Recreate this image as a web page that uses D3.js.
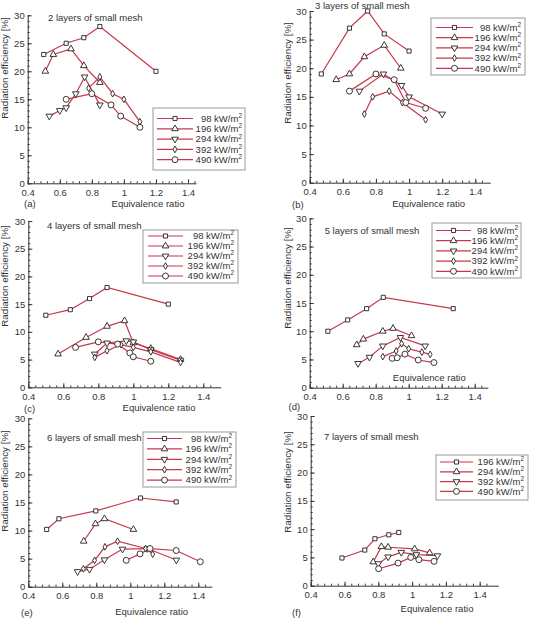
<!DOCTYPE html>
<html>
<head>
<meta charset="utf-8">
<script src="https://cdn.jsdelivr.net/npm/d3@7"></script>
<style>
  body { margin: 0; background: #fff; }
  svg { display: block; font-family: "Liberation Sans", Arial, sans-serif; }
  .axis text { font-size: 9.5px; fill: #333; }
  .axis line, .axis path { stroke: #333; }
</style>
</head>
<body>
<div id="chart"></div>
<script>
// heat loads shown in each legend (kW/m2)
const loadsAE = ['98', '196', '294', '392', '490'];
const loadsF = ['196', '294', '392', '490'];

const xTicks = [0.4, 0.6, 0.8, 1, 1.2, 1.4];
const yTicks = [0, 5, 10, 15, 20, 25, 30];

// equivalence ratio / radiation efficiency [%], one inner array per load
const phiA = [[0.5, 0.64, 0.75, 0.85, 1.2], [0.51, 0.56, 0.67, 0.75, 0.85], [0.535, 0.6, 0.64, 0.7, 0.755, 0.85], [0.78, 0.85, 0.93, 1.0, 1.1], [0.64, 0.8, 0.92, 0.98, 1.1]];
const effA = [[23, 25, 26, 28, 20], [20, 23, 24, 21, 18], [12, 13, 13.5, 16, 19, 14], [17, 19, 16, 15, 11], [15, 16, 14, 12, 10]];

const phiB = [[0.47, 0.64, 0.75, 0.85, 1.0], [0.56, 0.64, 0.73, 0.85, 0.95], [0.7, 0.845, 0.955, 1.0, 1.2], [0.73, 0.78, 0.88, 0.96, 1.1], [0.64, 0.8, 0.91, 0.98, 1.1]];
const effB = [[19, 27, 30, 26, 23], [18, 19, 22, 24, 20], [16, 19, 17, 15, 12], [12, 15, 16, 14, 11], [16, 19, 18, 14, 13]];

const phiC = [[0.5, 0.64, 0.75, 0.85, 1.2], [0.57, 0.73, 0.85, 0.95, 1.0, 1.1, 1.27], [0.78, 0.85, 0.96, 1.0, 1.1, 1.27], [0.78, 0.85, 0.93, 1.0, 1.1, 1.27], [0.67, 0.8, 0.91, 0.98, 1.0, 1.1]];
const effC = [[13, 14, 16, 18, 15], [6, 9, 11, 12, 8, 7, 5], [6, 8, 8.4, 8.2, 6.8, 4.9], [5.4, 6.6, 7.7, 7.2, 6.4, 4.5], [7.2, 8.2, 7.8, 6.2, 5.5, 4.7]];

const phiD = [[0.51, 0.63, 0.745, 0.846, 1.27], [0.685, 0.725, 0.843, 0.905, 1.017], [0.693, 0.762, 0.843, 0.95, 1.1], [0.843, 0.924, 0.957, 1.0, 1.08, 1.13], [0.9, 0.93, 0.977, 1.058, 1.153]];
const effD = [[10, 12, 14, 16, 14], [7.6, 8.6, 10, 10.5, 9.2], [4.3, 5.4, 7.4, 8.9, 7.4], [5.5, 6.5, 7.8, 6.9, 6.3, 5.9], [5.2, 5.3, 5.95, 4.9, 4.45]];

const phiE = [[0.508, 0.58, 0.797, 1.06, 1.27], [0.726, 0.795, 0.848, 1.018], [0.69, 0.76, 0.848, 0.954, 1.1, 1.271], [0.724, 0.79, 0.851, 0.925, 1.09, 1.132], [0.976, 1.057, 1.116, 1.27, 1.412]];
const effE = [[10.2, 12.1, 13.5, 15.8, 15.1], [8.1, 11.2, 12.1, 10.2], [2.7, 3.1, 4.8, 6.7, 6.8, 4.75], [3.2, 4.7, 7.1, 8.1, 6.8, 5.8], [4.7, 5.85, 6.8, 6.45, 4.45]];

const phiF = [[0.585, 0.72, 0.78, 0.862, 0.921], [0.77, 0.818, 0.858, 1.015, 1.104], [0.8, 0.858, 0.936, 1.025, 1.15], [0.802, 0.917, 0.992, 1.04, 1.13]];
const effF = [[4.9, 6.3, 8.3, 9, 9.4], [4.2, 6.9, 6.8, 6.5, 5.8], [3.9, 5.1, 5.9, 5.5, 5.3], [3.0, 4.0, 5.0, 4.6, 4.3]];

const W = 538, H = 619;
const lineColor = '#c8374a';

// marker shapes: square, triangle, inverted triangle, diamond, circle
const markers = [
  {type: d3.symbolSquare, size: 17, rot: 0},
  {type: d3.symbolTriangle, size: 19, rot: 0},
  {type: d3.symbolTriangle, size: 19, rot: 180},
  {type: d3.symbolDiamond, size: 13, rot: 0},
  {type: d3.symbolCircle, size: 28, rot: 0}
];

// panel geometry (pixel layout only)
const panels = [
  {tag: '(a)', title: '2 layers of small mesh', phi: phiA, eff: effA, loads: loadsAE, mk: [0, 1, 2, 3, 4],
   x0: 27.7, xu: 160.3, xEnd: 1.45, y0: 183.3, y30: 15.3,
   tx: 48, ty: 20.5, lg: {x: 153, y: 108, w: 92, h: 62, r0: 118.5, dr: 10.3, l0: 157, l1: 193, t: 242},
   yl: [5, 68], tg: [24, 207], xl: [148, 206.5]},
  {tag: '(b)', title: '3 layers of small mesh', phi: phiB, eff: effB, loads: loadsAE, mk: [0, 1, 2, 3, 4],
   x0: 309.7, xu: 165.6, xEnd: 1.49, y0: 182.7, y30: 11,
   tx: 315, ty: 8.5, lg: {x: 431, y: 18, w: 94, h: 57, r0: 27.5, dr: 10.2, l0: 436, l1: 473, t: 521},
   yl: [288, 73], tg: [292, 208], xl: [428.7, 206.5]},
  {tag: '(c)', title: '4 layers of small mesh', phi: phiC, eff: effC, loads: loadsAE, mk: [0, 1, 2, 3, 4],
   x0: 28.3, xu: 175, xEnd: 1.5, y0: 387.3, y30: 221,
   tx: 47, ty: 229, lg: {x: 143, y: 230, w: 95, h: 53, r0: 236, dr: 10, l0: 148, l1: 183, t: 234},
   yl: [5, 276], tg: [24, 412], xl: [159, 410.5]},
  {tag: '(d)', title: '5 layers of small mesh', phi: phiD, eff: effD, loads: loadsAE, mk: [0, 1, 2, 3, 4],
   x0: 309.7, xu: 165, xEnd: 1.48, y0: 387.7, y30: 218.3,
   tx: 324.7, ty: 233.5, lg: {x: 432, y: 223, w: 89, h: 55, r0: 230.5, dr: 10.2, l0: 436, l1: 471, t: 518},
   yl: [288, 278], tg: [288.5, 410], xl: [429.3, 380.5]},
  {tag: '(e)', title: '6 layers of small mesh', phi: phiE, eff: effE, loads: loadsAE, mk: [0, 1, 2, 3, 4],
   x0: 28.3, xu: 170, xEnd: 1.48, y0: 586.7, y30: 418.3,
   tx: 47, ty: 441, lg: {x: 143, y: 432, w: 93, h: 55, r0: 438.5, dr: 10.4, l0: 147, l1: 182, t: 232},
   yl: [5, 481], tg: [21, 616], xl: [151.7, 615]},
  {tag: '(f)', title: '7 layers of small mesh', phi: phiF, eff: effF, loads: loadsF, mk: [0, 1, 2, 4],
   x0: 310.7, xu: 169, xEnd: 1.51, y0: 585.7, y30: 416,
   tx: 324, ty: 439.5, lg: {x: 436, y: 455, w: 92, h: 45, r0: 462, dr: 9.8, l0: 440, l1: 473, t: 524},
   yl: [288, 482], tg: [292, 616], xl: [437, 612]}
];

const svg = d3.select('#chart').append('svg')
  .attr('width', W).attr('height', H)
  .attr('viewBox', `0 0 ${W} ${H}`);

const txt = (g, x, y, s, size) => g.append('text')
  .attr('x', x).attr('y', y).attr('font-size', size || 9.5).attr('fill', '#333').text(s);

function symbolPath(m) {
  return d3.symbol().type(m.type).size(m.size)();
}

panels.forEach(p => {
  const g = svg.append('g');
  const x = d3.scaleLinear().domain([0.4, p.xEnd]).range([p.x0, p.x0 + (p.xEnd - 0.4) * p.xu]);
  const y = d3.scaleLinear().domain([0, 30]).range([p.y0, p.y30]);

  // minor ticks first, then major axes on top (ticks point inward)
  const xMinor = d3.range(0.4, 1.4501, 0.04).map(v => +v.toFixed(2));
  const yMinor = d3.range(0, 31, 1);
  g.append('g').attr('class', 'axis').attr('transform', `translate(0,${p.y0})`)
    .call(d3.axisBottom(x).tickValues(xMinor).tickSize(-2).tickFormat(''))
    .call(a => a.select('.domain').remove());
  g.append('g').attr('class', 'axis').attr('transform', `translate(${p.x0},0)`)
    .call(d3.axisLeft(y).tickValues(yMinor).tickSize(-2).tickFormat(''))
    .call(a => a.select('.domain').remove());

  g.append('g').attr('class', 'axis').attr('transform', `translate(0,${p.y0})`)
    .call(d3.axisBottom(x).tickValues(xTicks).tickSize(-4).tickSizeOuter(0)
      .tickPadding(6).tickFormat(d => +d.toFixed(1)));
  g.append('g').attr('class', 'axis').attr('transform', `translate(${p.x0},0)`)
    .call(d3.axisLeft(y).tickValues(yTicks).tickSize(-4).tickSizeOuter(0).tickPadding(3));

  // axis titles and labels
  txt(g, p.tx, p.ty, p.title);
  txt(g, p.tg[0], p.tg[1], p.tag);
  txt(g, p.xl[0], p.xl[1], 'Equivalence ratio').attr('text-anchor', 'middle');
  g.append('text')
    .attr('transform', `translate(${p.yl[0]},${p.yl[1]}) rotate(-90)`)
    .attr('text-anchor', 'middle').attr('dy', '0.35em')
    .attr('font-size', 9.8).attr('fill', '#333')
    .text('Radiation efficiency [%]');

  // series
  const line = d3.line().x(d => x(d[0])).y(d => y(d[1]));
  p.phi.forEach((xs, i) => {
    const pts = xs.map((v, j) => [v, p.eff[i][j]]);
    g.append('path').datum(pts)
      .attr('d', line).attr('fill', 'none')
      .attr('stroke', lineColor).attr('stroke-width', 1.2);
  });
  p.phi.forEach((xs, i) => {
    const m = markers[p.mk[i]];
    const pts = xs.map((v, j) => [v, p.eff[i][j]]);
    g.selectAll(null).data(pts).join('path')
      .attr('d', symbolPath(m))
      .attr('transform', d => `translate(${x(d[0])},${y(d[1])}) rotate(${m.rot})`)
      .attr('fill', '#fff').attr('stroke', '#222').attr('stroke-width', 0.9);
  });

  // legend
  const lg = g.append('g');
  lg.append('rect').attr('x', p.lg.x).attr('y', p.lg.y)
    .attr('width', p.lg.w).attr('height', p.lg.h)
    .attr('fill', '#fff').attr('stroke', '#999').attr('stroke-width', 1);
  p.loads.forEach((ld, i) => {
    const m = markers[p.mk[i]];
    const ry = p.lg.r0 + i * p.lg.dr;
    const mx = (p.lg.l0 + p.lg.l1) / 2;
    lg.append('line').attr('x1', p.lg.l0).attr('x2', p.lg.l1).attr('y1', ry).attr('y2', ry)
      .attr('stroke', lineColor).attr('stroke-width', 1.2);
    lg.append('path').attr('d', symbolPath(m))
      .attr('transform', `translate(${mx},${ry}) rotate(${m.rot})`)
      .attr('fill', '#fff').attr('stroke', '#222').attr('stroke-width', 0.9);
    const t = lg.append('text').attr('x', p.lg.t).attr('y', ry).attr('dy', '0.35em')
      .attr('text-anchor', 'end').attr('font-size', 9.5).attr('fill', '#333');
    t.append('tspan').text(ld + ' kW/m');
    t.append('tspan').attr('font-size', 6.5).attr('dy', '-0.6em').text('2');
  });
});
</script>
</body>
</html>
